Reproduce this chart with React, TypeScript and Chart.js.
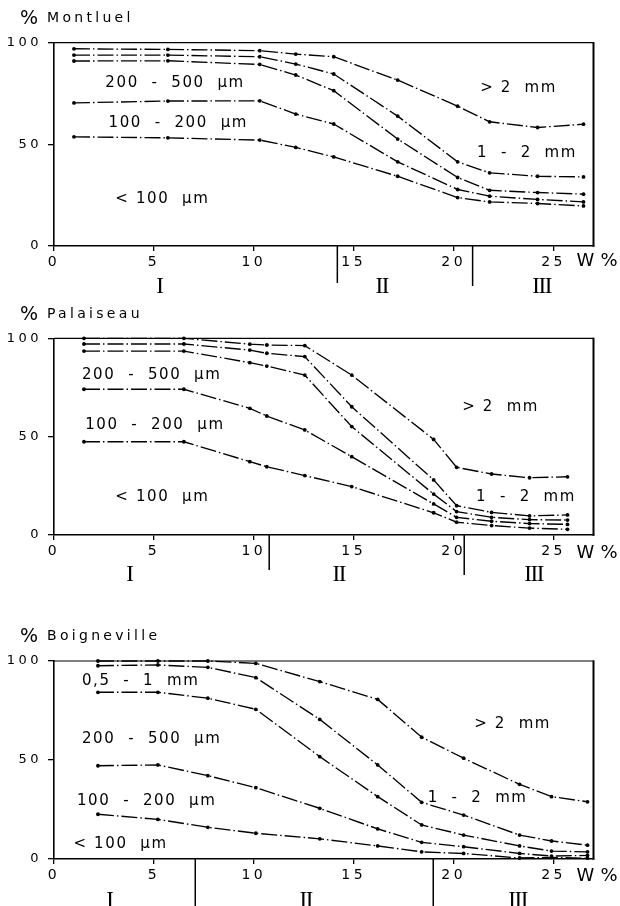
import { useEffect, useRef } from "react";
import { Chart, registerables } from "chart.js";

Chart.register(...registerables);

// ---------- data (W % on x, cumulative % on y) ----------
const montluelW = [1.0, 5.7, 10.3, 12.1, 14.0, 17.2, 20.2, 21.8, 24.2, 26.5];
const montluel2mm = [97.0, 96.7, 96.1, 94.4, 93.1, 81.6, 68.8, 61.1, 58.3, 59.9];
const montluel1mm = [93.9, 93.9, 93.1, 89.5, 84.6, 63.9, 41.4, 36.0, 34.3, 34.0];
const montluel500 = [91.0, 91.1, 89.3, 84.1, 76.4, 52.6, 33.7, 27.4, 26.3, 25.5];
const montluel200 = [70.4, 71.3, 71.4, 64.9, 60.0, 41.4, 27.8, 24.5, 22.9, 21.7];
const montluel100 = [53.7, 53.2, 52.1, 48.5, 43.8, 34.3, 23.8, 21.7, 20.9, 19.7];

const palaiseauW = [1.5, 6.5, 9.8, 10.65, 12.55, 14.9, 19.0, 20.15, 21.9, 23.8, 25.7];
const palaiseau2mm = [100, 100, 97.0, 96.6, 96.3, 81.3, 48.6, 34.4, 31.0, 29.1, 29.6];
const palaiseau1mm = [97.1, 97.1, 94.0, 92.4, 90.7, 65.2, 28.0, 14.9, 11.5, 9.7, 10.2];
const palaiseau500 = [93.5, 93.5, 87.6, 85.9, 81.3, 55.1, 20.8, 11.9, 9.0, 7.8, 7.6];
const palaiseau200 = [74.1, 74.1, 64.4, 60.5, 53.4, 39.8, 15.8, 9.0, 7.0, 5.8, 5.4];
const palaiseau100 = [47.4, 47.4, 37.3, 34.7, 30.2, 24.6, 11.3, 6.5, 4.8, 3.5, 2.9];

const boignevilleW = [2.2, 5.2, 7.7, 10.1, 13.3, 16.2, 18.4, 20.5, 23.3, 24.9, 26.7];
const boigneville2mm = [100, 100, 100, 98.8, 89.6, 80.6, 61.5, 50.9, 37.7, 31.5, 28.9];
const boigneville1mm = [97.6, 98.0, 96.8, 91.6, 70.5, 47.5, 28.6, 22.2, 12.1, 9.1, 7.0];
const boigneville500 = [84.2, 84.2, 81.2, 75.6, 51.7, 31.5, 17.2, 12.1, 6.6, 4.0, 3.6];
const boigneville200 = [47.1, 47.5, 42.1, 36.0, 25.6, 15.2, 8.4, 6.2, 2.8, 1.5, 1.8];
const boigneville100 = [22.6, 20.0, 16.0, 13.0, 10.2, 6.6, 3.6, 2.8, 0.5, 0.8, 0.4];

// ---------- axis ticks / texts ----------
const xMax = 27;
const xStep = 5;
const yStep = 50;
const zoneNames = ["I", "II", "III"];

const montluelZones = [5.27, 16.4, 24.4];
const montluelDividers = [14.18, 20.95];
const palaiseauZones = [3.77, 14.25, 24.0];
const palaiseauDividers = [10.77, 20.53];
const boignevilleZones = [2.77, 12.6, 23.2];
const boignevilleDividers = [7.07, 18.98];

const montluelLabels = ["200  -  500  µm", "100  -  200  µm", "< 100  µm", "> 2  mm", "1  -  2  mm"];
const montluelLabelX = [2.57, 2.73, 3.07, 21.33, 21.17];
const montluelLabelY = [80.8, 61.1, 23.8, 78.3, 46.6];

const palaiseauLabels = ["200  -  500  µm", "100  -  200  µm", "< 100  µm", "> 2  mm", "1  -  2  mm"];
const palaiseauLabelX = [1.4, 1.56, 3.07, 20.43, 21.12];
const palaiseauLabelY = [82.0, 56.6, 20.0, 65.6, 20.0];

const boignevilleLabels = ["0,5  -  1  mm", "200  -  500  µm", "100  -  200  µm", "< 100  µm", "> 2  mm", "1  -  2  mm"];
const boignevilleLabelX = [1.4, 1.4, 1.15, 0.98, 21.03, 18.7];
const boignevilleLabelY = [90.8, 61.5, 30.1, 8.4, 68.8, 31.5];

const SANS = '"DejaVu Sans", "Liberation Sans", Arial, sans-serif';
const SERIF = '"Liberation Serif", "DejaVu Serif", "Times New Roman", serif';

type PanelCfg = {
  title: string;
  w: number[];
  series: number[][];
  labels: string[];
  labelX: number[];
  labelY: number[];
  zones: number[];
  dividers: number[];
  dividerLen: number[];
  romanDy: number;
  wDy: number;
  titleY: number;
  top: number;
  height: number;
  padTop: number;
  padBottom: number;
};

const panels: PanelCfg[] = [
  {
    title: "Montluel",
    w: montluelW,
    series: [montluel2mm, montluel1mm, montluel500, montluel200, montluel100],
    labels: montluelLabels,
    labelX: montluelLabelX,
    labelY: montluelLabelY,
    zones: montluelZones,
    dividers: montluelDividers,
    dividerLen: [37, 40],
    romanDy: 39,
    wDy: 13.5,
    titleY: 17,
    top: 0,
    height: 300,
    padTop: 42.7,
    padBottom: 24,
  },
  {
    title: "Palaiseau",
    w: palaiseauW,
    series: [palaiseau2mm, palaiseau1mm, palaiseau500, palaiseau200, palaiseau100],
    labels: palaiseauLabels,
    labelX: palaiseauLabelX,
    labelY: palaiseauLabelY,
    zones: palaiseauZones,
    dividers: palaiseauDividers,
    dividerLen: [35, 40],
    romanDy: 38,
    wDy: 16,
    titleY: 13,
    top: 300,
    height: 300,
    padTop: 38.3,
    padBottom: 35,
  },
  {
    title: "Boigneville",
    w: boignevilleW,
    series: [boigneville2mm, boigneville1mm, boigneville500, boigneville200, boigneville100],
    labels: boignevilleLabels,
    labelX: boignevilleLabelX,
    labelY: boignevilleLabelY,
    zones: boignevilleZones,
    dividers: boignevilleDividers,
    dividerLen: [50, 50],
    romanDy: 40,
    wDy: 15.5,
    titleY: 35,
    top: 600,
    height: 306,
    padTop: 61,
    padBottom: 17,
  },
];

function makePlugin(cfg: PanelCfg) {
  return {
    id: "annot",
    beforeDraw(chart: any) {
      chart.ctx.letterSpacing = "3.5px";
    },
    afterDraw(chart: any) {
      const ctx: CanvasRenderingContext2D = chart.ctx;
      const a = chart.chartArea;
      const x = chart.scales.x;
      const y = chart.scales.y;
      ctx.save();
      ctx.letterSpacing = "0px";
      ctx.strokeStyle = "#000";
      ctx.fillStyle = "#000";
      // top & right frame
      ctx.lineWidth = 1.2;
      ctx.beginPath();
      ctx.moveTo(a.left, a.top);
      ctx.lineTo(a.right, a.top);
      ctx.stroke();
      ctx.lineWidth = 2;
      ctx.beginPath();
      ctx.moveTo(a.right, a.top - 0.6);
      ctx.lineTo(a.right, a.bottom + 0.8);
      ctx.stroke();
      // zone dividers
      ctx.lineWidth = 1.5;
      cfg.dividers.forEach((d, i) => {
        const px = x.getPixelForValue(d);
        ctx.beginPath();
        ctx.moveTo(px, a.bottom);
        ctx.lineTo(px, a.bottom + cfg.dividerLen[i]);
        ctx.stroke();
      });
      // roman numerals
      ctx.font = `23px ${SERIF}`;
      ctx.letterSpacing = "-1.5px";
      ctx.textAlign = "center";
      ctx.textBaseline = "alphabetic";
      cfg.zones.forEach((z, i) => {
        ctx.fillText(zoneNames[i], x.getPixelForValue(z), a.bottom + cfg.romanDy + 7.6);
      });
      // in-plot labels
      ctx.font = `15px ${SANS}`;
      ctx.letterSpacing = "1.6px";
      ctx.textAlign = "left";
      cfg.labels.forEach((t, i) => {
        ctx.fillText(t, x.getPixelForValue(cfg.labelX[i]), y.getPixelForValue(cfg.labelY[i]) + 5.5);
      });
      // W %
      ctx.font = `18px ${SANS}`;
      ctx.letterSpacing = "0px";
      ctx.fillText("W", a.right - 17, a.bottom + cfg.wDy + 6.5);
      ctx.fillText("%", a.right + 7, a.bottom + cfg.wDy + 6.5);
      // title
      ctx.font = `19px ${SANS}`;
      ctx.fillText("%", 20, cfg.titleY + 7);
      ctx.font = `14px ${SANS}`;
      ctx.letterSpacing = "3.3px";
      ctx.fillText(cfg.title, 47, cfg.titleY + 5);
      ctx.restore();
    },
  };
}

function Panel({ cfg }: { cfg: PanelCfg }) {
  const ref = useRef<HTMLCanvasElement>(null);
  useEffect(() => {
    const canvas = ref.current;
    if (!canvas) return;
    const datasets = cfg.series.map((vals) => ({
      data: cfg.w.map((wv, i) => ({ x: wv, y: vals[i] })),
      borderColor: "#000",
      borderWidth: 1.35,
      borderDash: [16, 3, 1.5, 3],
      pointRadius: 1.9,
      pointBackgroundColor: "#000",
      pointBorderWidth: 0,
      tension: 0,
      fill: false,
      clip: 6,
    }));
    const chart = new Chart(canvas, {
      type: "line",
      data: { datasets },
      plugins: [makePlugin(cfg)],
      options: {
        responsive: false,
        animation: false,
        layout: { padding: { left: 0, right: 26.5, top: cfg.padTop, bottom: cfg.padBottom } },
        plugins: { legend: { display: false }, tooltip: { enabled: false }, title: { display: false } },
        scales: {
          x: {
            type: "linear",
            min: 0,
            max: xMax,
            ticks: { stepSize: xStep, includeBounds: false, color: "#000", font: { family: SANS, size: 14 }, padding: 3, maxRotation: 0 },
            grid: { drawOnChartArea: false, drawTicks: true, tickLength: 5, color: "#000", lineWidth: 1.3 },
            border: { display: true, color: "#000", width: 1.6 },
            afterFit: (s: any) => {
              s.height = 30;
            },
          },
          y: {
            type: "linear",
            min: 0,
            max: 100,
            ticks: { stepSize: yStep, color: "#000", font: { family: SANS, size: 13 }, padding: 6 },
            grid: { drawOnChartArea: false, drawTicks: true, tickLength: 6, color: "#000", lineWidth: 1.3 },
            border: { display: true, color: "#000", width: 1.6 },
            afterFit: (s: any) => {
              s.width = 54;
            },
          },
        },
      } as any,
    });
    return () => chart.destroy();
  }, [cfg]);
  return (
    <canvas
      ref={ref}
      width={620}
      height={cfg.height}
      style={{ position: "absolute", left: 0, top: cfg.top, width: 620, height: cfg.height }}
    />
  );
}

export default function App() {
  return (
    <div style={{ position: "absolute", left: 0, top: 0, width: 620, height: 906, background: "#fff", overflow: "hidden" }}>
      {panels.map((p) => (
        <Panel key={p.title} cfg={p} />
      ))}
    </div>
  );
}
